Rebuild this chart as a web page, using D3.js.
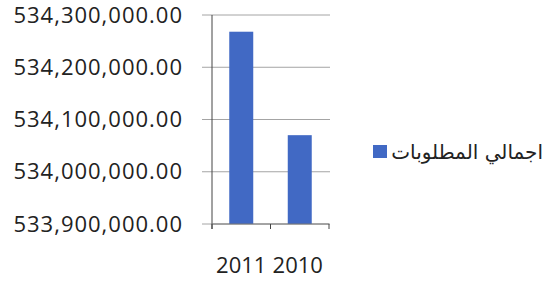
<!DOCTYPE html>
<html>
<head>
<meta charset="utf-8">
<script src="https://cdn.jsdelivr.net/npm/d3@7"></script>
<style>
  body { margin: 0; background: #fff; }
  svg { display: block; }
</style>
</head>
<body>
<svg id="chart"></svg>
<script>
// Bar chart: total liabilities, two years

const width = 553;
const height = 285;

const categories = ["2011", "2010"];
const values = [534268000, 534070000];
const yTicks = [533900000, 534000000, 534100000, 534200000, 534300000];
const seriesName = "اجمالي المطلوبات";

const plotLeft = 212;
const plotRight = 329;
const plotTop = 15;
const plotBottom = 224;

const barColor = "#4169c4";

const svg = d3.select("#chart").attr("width", width).attr("height", height);

const xScale = d3
  .scaleBand()
  .domain(categories)
  .range([plotLeft, plotRight])
  .paddingInner(0.59)
  .paddingOuter(0.295);

const yScale = d3
  .scaleLinear()
  .domain([533900000, 534300000])
  .range([plotBottom, plotTop]);

// gridlines (stick out a little left of the axis like the original)
svg
  .append("g")
  .selectAll("line")
  .data(yTicks)
  .enter()
  .append("line")
  .attr("x1", plotLeft - 10)
  .attr("x2", plotRight + 1)
  .attr("y1", (d) => yScale(d))
  .attr("y2", (d) => yScale(d))
  .attr("stroke", "#a4a4a4")
  .attr("stroke-width", 1);

// y tick labels
svg
  .append("g")
  .selectAll("text")
  .data(yTicks)
  .enter()
  .append("text")
  .attr("x", 183)
  .attr("y", (d) => yScale(d))
  .attr("dy", "0.35em")
  .attr("text-anchor", "end")
  .style("font-family", "'Open Sans', sans-serif")
  .style("font-size", "22px")
  .style("letter-spacing", "1px")
  .style("fill", "#222")
  .text((d) => d3.format(",.2f")(d));

// bars
svg
  .append("g")
  .selectAll("rect")
  .data(values)
  .enter()
  .append("rect")
  .attr("x", (d, i) => xScale(categories[i]))
  .attr("width", xScale.bandwidth())
  .attr("y", (d) => yScale(d))
  .attr("height", (d) => yScale(533900000) - yScale(d))
  .attr("fill", barColor);

// left axis line
svg
  .append("line")
  .attr("x1", plotLeft)
  .attr("x2", plotLeft)
  .attr("y1", plotTop)
  .attr("y2", plotBottom + 5)
  .attr("stroke", "#444")
  .attr("stroke-width", 1);

// bottom axis line + category boundary ticks
svg
  .append("line")
  .attr("x1", plotLeft)
  .attr("x2", plotRight)
  .attr("y1", plotBottom)
  .attr("y2", plotBottom)
  .attr("stroke", "#777")
  .attr("stroke-width", 1);

const step = xScale.step();
const boundaries = categories.map((c) => xScale(c) - xScale.paddingOuter() * step);
boundaries.push(plotRight);

svg
  .append("g")
  .selectAll("line")
  .data(boundaries)
  .enter()
  .append("line")
  .attr("x1", (d) => d)
  .attr("x2", (d) => d)
  .attr("y1", plotBottom)
  .attr("y2", plotBottom + 5)
  .attr("stroke", "#444")
  .attr("stroke-width", 1);

// category labels
svg
  .append("g")
  .selectAll("text")
  .data(categories)
  .enter()
  .append("text")
  .attr("x", (d, i) => xScale(d) + xScale.bandwidth() / 2 + (i === 0 ? 0 : -2))
  .attr("y", 273)
  .attr("text-anchor", "middle")
  .style("font-family", "'Open Sans', sans-serif")
  .style("font-size", "22px")
  .style("fill", "#222")
  .text((d) => d);

// legend
const legend = svg.append("g").attr("transform", "translate(373,145)");

legend
  .append("rect")
  .attr("width", 14)
  .attr("height", 13)
  .attr("fill", barColor);

legend
  .append("text")
  .attr("x", 170)
  .attr("y", 7)
  .attr("dy", "0.35em")
  .attr("direction", "rtl")
  .attr("text-anchor", "start")
  .style("font-family", "'DejaVu Sans', 'Noto Sans', sans-serif")
  .style("font-size", "20px")
  .style("fill", "#222")
  .text(seriesName);
</script>
</body>
</html>
